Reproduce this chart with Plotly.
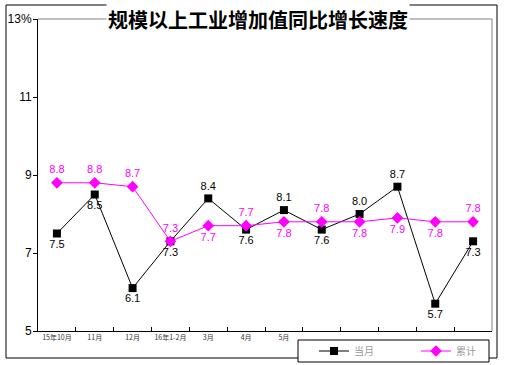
import plotly.graph_objects as go

months = ["15年10月", "11月", "12月", "16年1-2月", "3月", "4月", "5月", "", "", "", "", ""]
current = [7.5, 8.5, 6.1, 7.3, 8.4, 7.6, 8.1, 7.6, 8.0, 8.7, 5.7, 7.3]
cumulative = [8.8, 8.8, 8.7, 7.3, 7.7, 7.7, 7.8, 7.8, 7.8, 7.9, 7.8, 7.8]
cur_pos = ["bottom center", "bottom center", "bottom center", "bottom center", "top center",
           "bottom center", "top center", "bottom center", "top center", "top center",
           "bottom center", "bottom center"]
cum_pos = ["top center", "top center", "top center", "top center", "bottom center",
           "top center", "bottom center", "top center", "bottom center", "bottom center",
           "bottom center", "top center"]
y_ticks = [5, 7, 9, 11, 13]
y_text = ["5", "7", "9", "11", "13%"]

x = list(range(len(months)))

fig = go.Figure()
fig.add_trace(go.Scatter(
    x=x, y=current, name="当月", mode="lines+markers+text",
    line=dict(color="black", width=1),
    marker=dict(symbol="square", size=8, color="black"),
    text=[f"{v:.1f}" for v in current], textposition=cur_pos,
    textfont=dict(family="Liberation Sans, Arial", size=11, color="black"),
    cliponaxis=False,
))
fig.add_trace(go.Scatter(
    x=x, y=cumulative, name="累计", mode="lines+markers+text",
    line=dict(color="#FF00FF", width=1),
    marker=dict(symbol="diamond", size=9, color="#FF00FF"),
    text=[f"{v:.1f}" for v in cumulative], textposition=cum_pos,
    textfont=dict(family="Liberation Sans, Arial", size=11, color="#FF00FF"),
    cliponaxis=False,
))

W, H = 505, 365
L, R, T, B = 38, 13, 19, 34
pw, ph = W - L - R, H - T - B

def px(xp):
    return (xp - L) / pw

def py(yp):
    return (H - B - yp) / ph

shapes = [
    dict(type="line", xref="paper", yref="paper", x0=0, x1=1, y0=1, y1=1,
         line=dict(color="#808080", width=1)),
    dict(type="line", xref="paper", yref="paper", x0=1, x1=1, y0=0, y1=1,
         line=dict(color="#808080", width=1)),
    dict(type="rect", xref="paper", yref="paper", x0=px(6), x1=px(497), y0=py(358), y1=py(5),
         line=dict(color="black", width=1), fillcolor="rgba(0,0,0,0)", layer="below"),
    # legend frame
    dict(type="rect", xref="paper", yref="paper", x0=px(298), x1=px(489), y0=py(362), y1=py(340),
         line=dict(color="black", width=1), fillcolor="white", layer="below"),
]

fig.update_layout(
    width=W, height=H,
    margin=dict(l=L, r=R, t=T, b=B, autoexpand=False),
    paper_bgcolor="white", plot_bgcolor="white",
    shapes=shapes,
    showlegend=True,
    legend=dict(
        orientation="h", x=px(314), y=py(351), xanchor="left", yanchor="middle",
        borderwidth=0, bgcolor="rgba(0,0,0,0)",
        font=dict(family="Noto Sans CJK SC", size=10, color="#999999"),
        entrywidth=57, itemwidth=30,
    ),
    annotations=[dict(
        text="<b>规模以上工业增加值同比增长速度</b>", xref="paper", yref="paper",
        x=px(258), y=1, xanchor="center", yanchor="middle", showarrow=False,
        font=dict(family="Noto Sans CJK SC", size=20, color="black"),
        bgcolor="white", borderpad=1,
    )],
    xaxis=dict(
        range=[-0.5, len(months) - 0.5], tickmode="array", tickvals=x, ticktext=months,
        ticks="", showline=True, linecolor="black", linewidth=1, showgrid=False,
        zeroline=False, tickangle=0, automargin=False,
        tickfont=dict(family="Noto Sans CJK SC", size=7, color="#333333"),
        minor=dict(tickmode="array", tickvals=[i + 0.5 for i in x[:-1]], ticks="inside",
                   ticklen=4, tickcolor="black", showgrid=False),
    ),
    yaxis=dict(
        range=[5, 13], tickmode="array", tickvals=y_ticks, ticktext=y_text,
        ticks="outside", ticklen=4, tickcolor="black", showline=True, linecolor="black",
        linewidth=1, showgrid=False, zeroline=False, automargin=False,
        ticklabelstandoff=-1,
        tickfont=dict(family="Liberation Sans, Arial", size=12, color="black"),
    ),
)

fig.write_html("out.html", config={"displayModeBar": False},
               post_script="document.body.style.margin='0';")
